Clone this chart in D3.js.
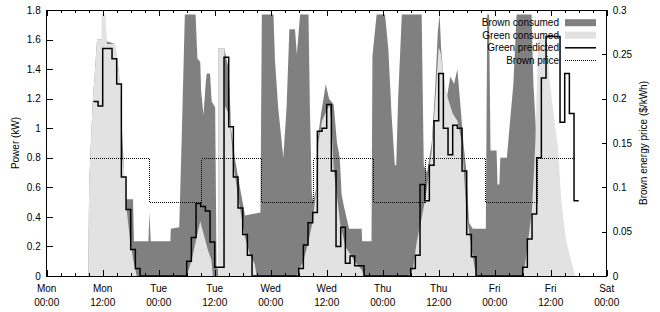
<!DOCTYPE html>
<html>
<head>
<meta charset="utf-8">
<script src="https://cdn.jsdelivr.net/npm/d3@7"></script>
<style>
  body { margin: 0; background: #fff; }
  text { font-family: "Liberation Sans", Arial, Helvetica, sans-serif; font-size: 10px; fill: #000; }
</style>
</head>
<body>
<div id="app"></div>
<script>
const WIDTH = 660;
const HEIGHT = 312;

// hours since Mon 00:00
const dayNames = ["Mon", "Mon", "Tue", "Tue", "Wed", "Wed", "Thu", "Thu", "Fri", "Fri", "Sat"];
const timeNames = ["00:00", "12:00", "00:00", "12:00", "00:00", "12:00", "00:00", "12:00", "00:00", "12:00", "00:00"];
const powerTicks = [0, 0.2, 0.4, 0.6, 0.8, 1, 1.2, 1.4, 1.6, 1.8];
const priceTicks = [0, 0.05, 0.1, 0.15, 0.2, 0.25, 0.3];

// [hour, kW] light area
const greenConsumed = [
  [8.9,0],[9.1,0.63],[9.85,1.17],[10.8,1.6],[11.7,1.6],[11.8,1.77],[12.6,1.77],[12.9,1.57],[14.6,1.57],[15.2,1.46],[15.8,1.28],[16.1,0.82],[16.8,0.66],[17.1,0.46],[17.9,0.23],[18.6,0.1],[19.3,0],
  [30.0,0],[31.0,0.1],[32.9,0.37],[34.6,0.17],[35.3,0.11],[35.6,0],[36.7,0],[36.8,1.54],[38.1,1.54],[38.2,1.15],[39.0,1.1],[39.3,1.02],[40.3,0.69],[41.4,0.46],[42.5,0.26],[43.6,0.14],[44.6,0.08],[45,0],
  [53.5,0],[55,0.1],[56,0.22],[57,0.37],[57.8,0.6],[58.2,0.9],[59,1.05],[60,1.12],[60.6,1.16],[61.1,1.0],[61.5,0.72],[62,0.6],[62.9,0.35],[64,0.2],[66,0.1],[67.5,0.04],[68,0],
  [77.5,0],[78.5,0.05],[79.3,0.23],[80.7,0.45],[81.5,0.6],[82.5,0.85],[83.5,1.3],[84,1.55],[84.5,1.5],[85,1.35],[86,1.2],[87,1.1],[88,1.05],[89,0.9],[89.9,0.45],[90.5,0.3],[91.2,0.15],[92,0],
  [101.8,0],[102.5,0.08],[103.2,0.25],[104,0.45],[104.7,0.9],[105.3,1.6],[107.2,1.6],[107.8,1.31],[109.6,0.85],[110.3,0.5],[111.3,0.24],[113.2,0]
];

// [hour, kW] top of the brown area, stacked on green
const brownConsumed = [
  [8.9,0],[9.1,0.63],[9.85,1.17],[10.8,1.6],[11.7,1.6],[14.6,1.57],[15.5,1.38],[16.4,0.82],[16.7,0.52],[18.5,0.52],[18.7,0.235],[21.8,0.235],[22.0,0.43],[22.3,0.235],[26.5,0.235],[26.6,0.32],[28.4,0.33],[28.9,0.9],[29.6,1.77],[31.9,1.77],[32.3,1.47],[32.9,1.45],[33.1,1.25],[33.6,1.09],[34.1,1.32],[34.3,1.37],[35,1.37],[35.35,1.18],[36.1,1.14],[36.4,0.05],[36.7,0.05],[36.8,1.54],[38.1,1.54],[38.5,1.47],[39.0,1.4],[39.5,1.0],[40.3,0.8],[41.4,0.6],[42.5,0.41],[45.8,0.43],
  [46.1,1.77],[48.6,1.77],[48.9,1.47],[49.6,1.14],[50.7,0.8],[51.4,1.14],[52,1.67],[53.2,1.67],[53.6,1.5],[54.3,1.77],[56.1,1.77],[56.4,1.14],[56.8,0.57],[57.1,0.5],[57.8,0.6],[58,0.91],[58.8,1.1],[59.8,1.3],[60.5,1.2],[61.5,1.16],[62.2,0.9],[62.8,0.8],[63.2,0.55],[63.7,0.47],[64.8,0.32],[67.5,0.32],[67.6,0.235],[69.6,0.235],
  [69.8,1.49],[70.7,1.77],[72.5,1.77],[73.2,1.54],[73.9,1.09],[74.6,0.75],[74.9,0.75],[75.3,1.2],[76.1,1.77],[80.35,1.77],[80.8,0.75],[81.5,0.7],[82.5,0.9],[83.3,1.3],[83.8,1.65],[84.2,1.77],[84.5,1.55],[85,1.35],[85.7,1.2],[86.5,1.35],[87.3,1.3],[88,1.4],[88.8,1.1],[89.3,0.9],[89.9,0.72],[90.5,0.36],[91.3,0.32],[94.1,0.32],
  [94.4,1.77],[94.8,1.77],[95.1,0.85],[96.4,0.85],[96.6,0.62],[97.0,0.62],[97.2,0.8],[98.6,0.8],[100.0,1.3],[100.7,1.77],[103.9,1.77],[104.3,1.3],[105,0.9],[105.3,0.9],[105.5,0],[113.2,0]
];

// [hour, kW], hourly steps
const greenPredicted = [
  [10,1.18],[11,1.15],[12,1.54],[13,1.54],[14,1.47],[15,1.30],[16,0.67],[17,0.45],[18,0.18],[19,0.05],[20,0],
  [30,0.10],[31,0.26],[32,0.49],[33,0.47],[34,0.44],[35,0.23],[36,0.06],[37,0.06],[38,1.48],[39,1.01],[40,0.67],[41,0.46],[42,0.28],[43,0.14],[44,0],
  [54,0.05],[55,0.21],[56,0.36],[57,0.43],[58,0.98],[59,1.0],[60,1.16],[61,0.71],[62,0.2],[63,0.33],[64,0.086],[65,0.135],[66,0.07],[67,0.07],[68,0],
  [78,0.05],[79,0.14],[80,0.62],[81,0.51],[82,0.75],[83,1.05],[84,1.37],[85,1.0],[86,0.82],[87,1.02],[88,1.0],[89,0.71],[90,0.28],[91,0.13],[92,0],
  [102,0.06],[103,0.25],[104,0.42],[105,0.80],[106,1.34],[107,1.62],[108,1.62],[109,1.62],[110,1.04],[111,1.37],[112,1.10],[113,0.51],[114,0.51]
];

// [hour, $/kWh]
const brownPrice = [
  [9,0.133],[22,0.0835],[33,0.133],[46,0.0835],[57,0.133],[70,0.0835],[81,0.133],[94,0.0835],[105,0.133],[113,0.133]
];

const legendItems = ["Brown consumed", "Green consumed", "Green predicted", "Brown price"];

const x = d3.scaleLinear().domain([0, 120]).range([46.7, 606.7]);
const y = d3.scaleLinear().domain([0, 1.8]).range([276, 10]);
const y2 = d3.scaleLinear().domain([0, 0.3]).range([276, 10]);

const svg = d3.select("#app").append("svg")
  .attr("width", WIDTH).attr("height", HEIGHT);

svg.append("clipPath").attr("id", "plot-clip")
  .append("rect")
  .attr("x", x(0)).attr("y", y(1.8))
  .attr("width", x(120) - x(0)).attr("height", y(0) - y(1.8));

const plot = svg.append("g").attr("clip-path", "url(#plot-clip)");

const area = d3.area().x((d) => x(d[0])).y0(y(0)).y1((d) => y(d[1]));

// dark below, light drawn on top of it
plot.append("path").attr("d", area(brownConsumed)).attr("fill", "#808080");
plot.append("path").attr("d", area(greenConsumed)).attr("fill", "#e2e2e2");

plot.append("path")
  .attr("d", d3.line().curve(d3.curveStepAfter).x((d) => x(d[0])).y((d) => y(d[1]))(greenPredicted))
  .attr("fill", "none").attr("stroke", "#000").attr("stroke-width", 1.5);

plot.append("path")
  .attr("d", d3.line().curve(d3.curveStepAfter).x((d) => Math.round(x(d[0])) + 0.5).y((d) => Math.round(y2(d[1])) + 0.5)(brownPrice))
  .attr("fill", "none").attr("stroke", "#000").attr("stroke-width", 1)
  .attr("stroke-dasharray", "1,1").attr("shape-rendering", "crispEdges");

// axes
const majorTicks = d3.range(0, 121, 12);
const minorTicks = d3.range(0, 121, 3).filter((h) => h % 12 !== 0);

svg.append("g").attr("transform", `translate(0,${y(0)})`)
  .call(d3.axisBottom(x).tickValues(majorTicks).tickSize(-6).tickFormat(""));
svg.append("g").attr("transform", `translate(0,${y(0)})`)
  .call(d3.axisBottom(x).tickValues(minorTicks).tickSize(-3).tickFormat(""));
svg.append("g").attr("transform", `translate(0,${y(1.8)})`)
  .call(d3.axisTop(x).tickValues(majorTicks).tickSize(-6).tickFormat(""));
svg.append("g").attr("transform", `translate(0,${y(1.8)})`)
  .call(d3.axisTop(x).tickValues(minorTicks).tickSize(-3).tickFormat(""));

svg.append("g").attr("transform", `translate(${x(0)},0)`)
  .call(d3.axisLeft(y).tickValues(powerTicks).tickSize(-6).tickPadding(6).tickFormat(d3.format("~g")));
svg.append("g").attr("transform", `translate(${x(120)},0)`)
  .call(d3.axisRight(y2).tickValues(priceTicks).tickSize(-5).tickPadding(6).tickFormat(d3.format("~g")));

svg.selectAll(".domain").remove();
svg.selectAll(".tick line").attr("stroke", "#000").attr("shape-rendering", "crispEdges");
svg.selectAll(".tick text").attr("font-size", 10).attr("font-family", null);

const xLabels = svg.append("g");
majorTicks.forEach((h, i) => {
  const t = xLabels.append("text").attr("text-anchor", "middle").attr("x", x(h));
  t.append("tspan").attr("x", x(h)).attr("y", 291.5).text(dayNames[i]);
  t.append("tspan").attr("x", x(h)).attr("y", 305.5).text(timeNames[i]);
});

svg.append("rect")
  .attr("x", x(0)).attr("y", y(1.8))
  .attr("width", x(120) - x(0)).attr("height", y(0) - y(1.8))
  .attr("fill", "none").attr("stroke", "#000").attr("shape-rendering", "crispEdges");

svg.append("text")
  .attr("transform", `translate(15.5,143) rotate(-90)`)
  .attr("text-anchor", "middle").attr("dominant-baseline", "central")
  .text("Power (kW)");
svg.append("text")
  .attr("transform", `translate(643,143) rotate(-90)`)
  .attr("text-anchor", "middle").attr("dominant-baseline", "central")
  .text("Brown energy price ($/kWh)");

// legend
const legend = svg.append("g");
const rowY = [22.7, 35.2, 47.8, 60.4];
legendItems.forEach((name, i) => {
  legend.append("text").attr("x", 559).attr("y", rowY[i])
    .attr("text-anchor", "end").attr("dominant-baseline", "central").text(name);
});
legend.append("rect").attr("x", 565).attr("y", rowY[0] - 3.5).attr("width", 31).attr("height", 7).attr("fill", "#808080");
legend.append("rect").attr("x", 565).attr("y", rowY[1] - 3.5).attr("width", 31).attr("height", 7).attr("fill", "#e2e2e2");
legend.append("line").attr("x1", 565).attr("x2", 596).attr("y1", rowY[2]).attr("y2", rowY[2])
  .attr("stroke", "#000").attr("stroke-width", 1.5);
legend.append("line").attr("x1", 565).attr("x2", 596).attr("y1", 60.5).attr("y2", 60.5)
  .attr("stroke", "#000").attr("stroke-dasharray", "1,1").attr("shape-rendering", "crispEdges");
</script>
</body>
</html>
